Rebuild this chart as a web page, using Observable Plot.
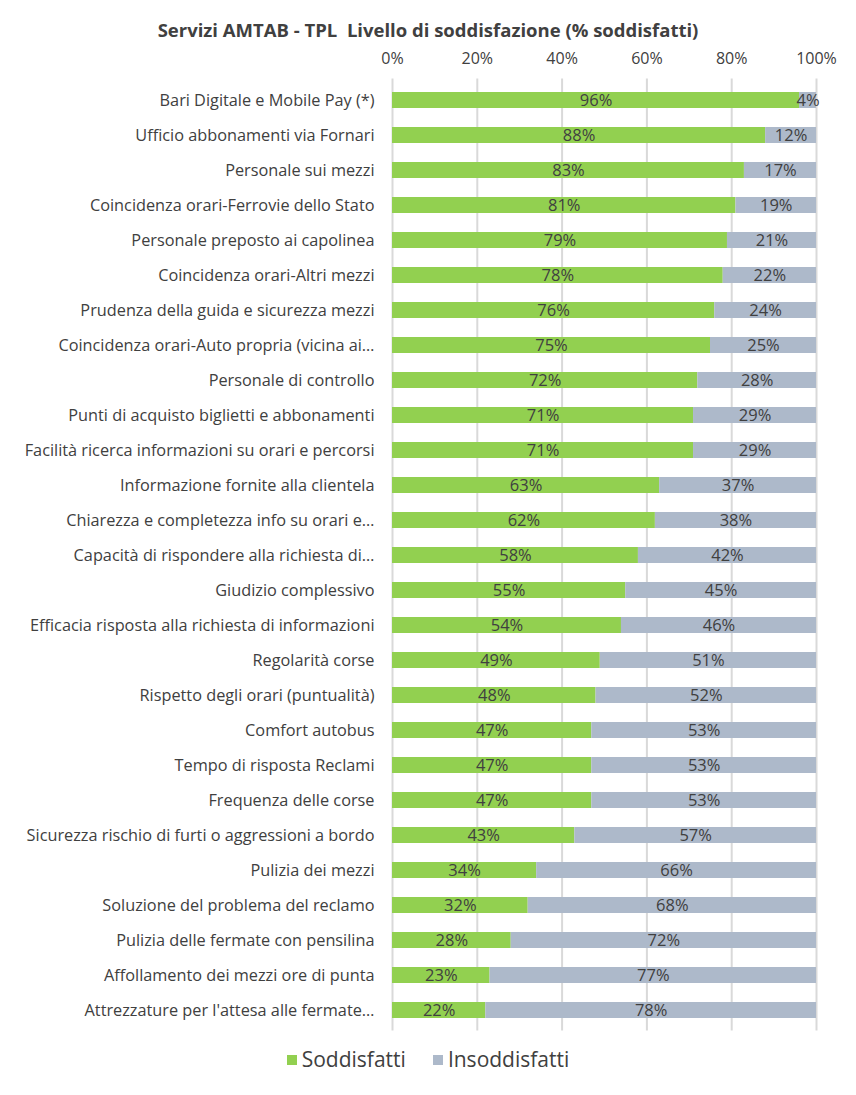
<!DOCTYPE html>
<html>
<head>
<meta charset="utf-8">
<script src="https://cdn.jsdelivr.net/npm/d3@7"></script>
<script src="https://cdn.jsdelivr.net/npm/@observablehq/plot@0.6"></script>
<style>
  body { margin: 0; background: #fff; font-family: "Open Sans", sans-serif; color: #404040; }
  #title { height: 25px; padding-top: 20px; line-height: 20px; font-size: 18.5px; font-weight: bold; text-align: center; width: 856px; color: #404040; }
  #legend { width: 856px; display: flex; justify-content: center; gap: 27px; font-size: 21px; margin-top: 10px; color: #404040; }
  #legend span.sw { display: inline-block; width: 10px; height: 10px; margin-right: 5px; vertical-align: 2px; }
</style>
</head>
<body>
<div id="title">Servizi AMTAB - TPL&nbsp; Livello di soddisfazione (% soddisfatti)</div>
<div id="chart"></div>
<div id="legend"></div>
<script>
const categories = [
  "Bari Digitale e Mobile Pay (*)",
  "Ufficio abbonamenti via Fornari",
  "Personale sui mezzi",
  "Coincidenza orari-Ferrovie dello Stato",
  "Personale preposto ai capolinea",
  "Coincidenza orari-Altri mezzi",
  "Prudenza della guida e sicurezza mezzi",
  "Coincidenza orari-Auto propria (vicina ai…",
  "Personale di controllo",
  "Punti di acquisto biglietti e abbonamenti",
  "Facilità ricerca informazioni su orari e percorsi",
  "Informazione fornite alla clientela",
  "Chiarezza e completezza info su orari e…",
  "Capacità di rispondere alla richiesta di…",
  "Giudizio complessivo",
  "Efficacia risposta alla richiesta di informazioni",
  "Regolarità corse",
  "Rispetto degli orari (puntualità)",
  "Comfort autobus",
  "Tempo di risposta Reclami",
  "Frequenza delle corse",
  "Sicurezza rischio di furti o aggressioni a bordo",
  "Pulizia dei mezzi",
  "Soluzione del problema del reclamo",
  "Pulizia delle fermate con pensilina",
  "Affollamento dei mezzi ore di punta",
  "Attrezzature per l'attesa alle fermate…"
];
const soddisfatti = [96,88,83,81,79,78,76,75,72,71,71,63,62,58,55,54,49,48,47,47,47,43,34,32,28,23,22];
const insoddisfatti = [4,12,17,19,21,22,24,25,28,29,29,37,38,42,45,46,51,52,53,53,53,57,66,68,72,77,78];
const seriesNames = ["Soddisfatti", "Insoddisfatti"];
const seriesColors = ["#92d050", "#adb9ca"];
const xTicks = [0, 20, 40, 60, 80, 100];

const table = [];
categories.forEach((c, i) => {
  table.push({cat: c, series: seriesNames[0], value: soddisfatti[i]});
  table.push({cat: c, series: seriesNames[1], value: insoddisfatti[i]});
});

const chart = Plot.plot({
  width: 856,
  height: 990,
  marginLeft: 392,
  marginRight: 40,
  marginTop: 37.5,
  marginBottom: 7.5,
  style: {fontFamily: "'Open Sans', sans-serif", fontSize: "16px", color: "#404040"},
  x: {domain: [0, 100], axis: null, label: null},
  y: {domain: categories, axis: null, label: null, paddingInner: 0.54, paddingOuter: 0.27, align: 0.5},
  color: {domain: seriesNames, range: seriesColors},
  marks: [
    Plot.ruleX(xTicks, {x: d => d, stroke: "#d9d9d9", strokeWidth: 2, insetTop: -4, insetBottom: -3}),
    Plot.barX(table, Plot.stackX({x: "value", y: "cat", fill: "series", order: null})),
    Plot.text(table, Plot.stackX({x: "value", y: "cat", z: "series", order: null, text: d => d.value + "%", fill: "#404040", fontSize: 16.5})),
    Plot.axisX(xTicks, {anchor: "top", label: null, tickSize: 0, tickPadding: 19, tickFormat: d => d + "%", fontSize: 16, fill: "#404040"}),
    Plot.axisY({anchor: "left", label: null, tickSize: 0, tickPadding: 18, fontSize: 16.3, fill: "#404040"})
  ]
});
document.getElementById("chart").appendChild(chart);

const legend = document.getElementById("legend");
seriesNames.forEach((n, i) => {
  const item = document.createElement("div");
  item.innerHTML = `<span class="sw" style="background:${seriesColors[i]}"></span>${n}`;
  legend.appendChild(item);
});
</script>
</body>
</html>
